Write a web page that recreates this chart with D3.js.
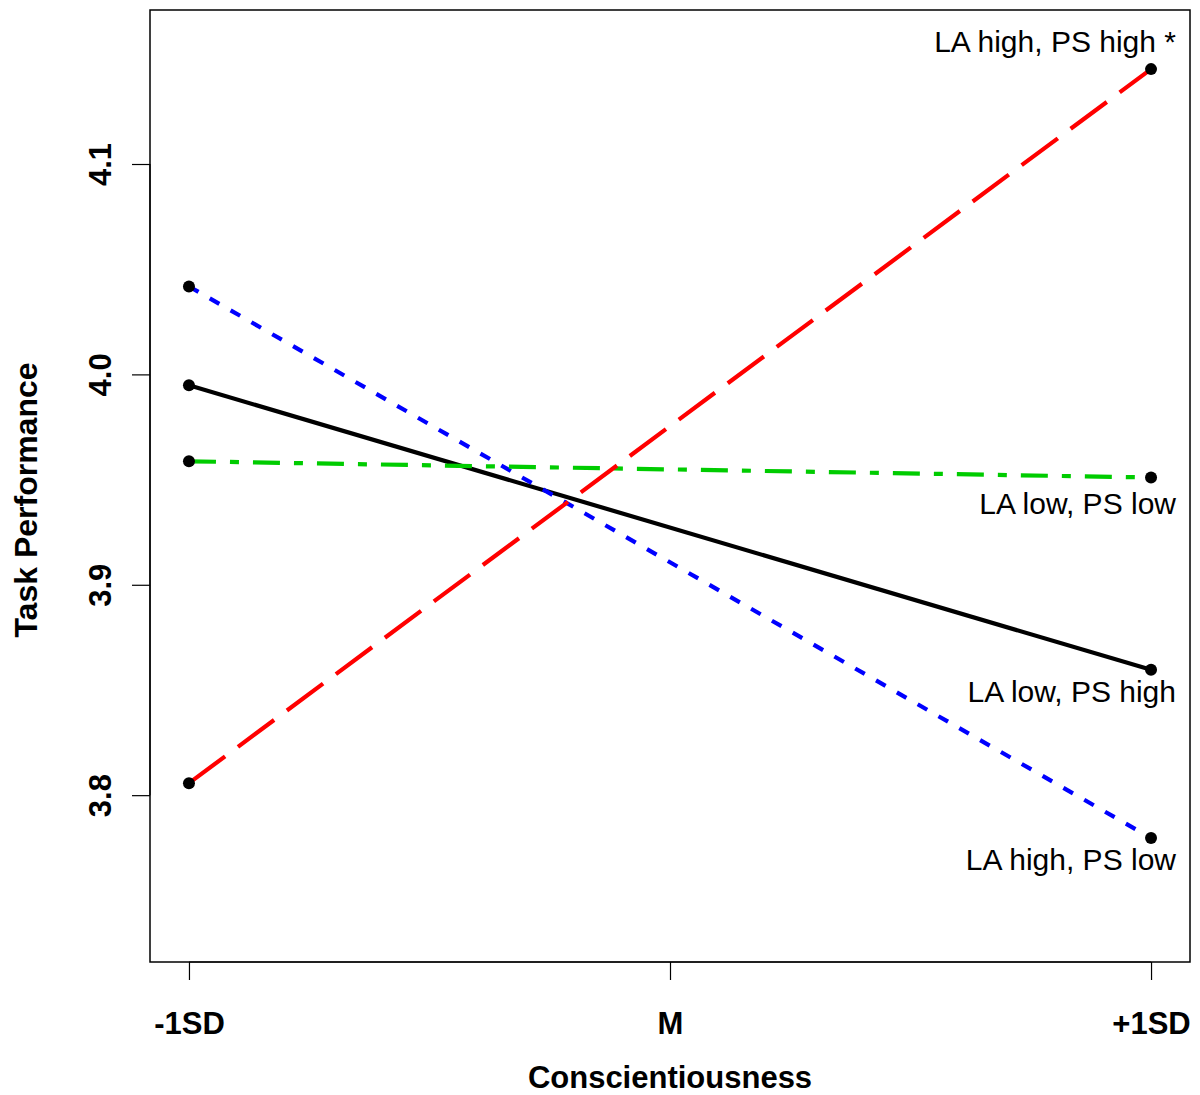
<!DOCTYPE html>
<html><head><meta charset="utf-8">
<script src="https://cdn.jsdelivr.net/npm/d3@7"></script>
<style>body{margin:0;background:#fff}svg{display:block}text{font-family:"Liberation Sans",Arial,sans-serif}</style>
</head><body><svg id="c" width="1200" height="1095"></svg>
<script>
const xLevels = [-1, 1];
const xTickValues = [-1, 0, 1];
const xTickLabels = ["-1SD", "M", "+1SD"];
const yTickValues = [3.8, 3.9, 4.0, 4.1];
const seriesNames = ["LA high, PS high *", "LA low, PS low", "LA low, PS high", "LA high, PS low"];
const redValues = [3.8057, 4.1451];
const greenValues = [3.9587, 3.9510];
const blackValues = [3.9948, 3.8596];
const blueValues = [4.0418, 3.7796];
const seriesColors = ["#ff0000", "#00cc00", "#000000", "#0000ff"];
const seriesDash = ["45,16", "27,14,9,14", null, "11,13"];

const svg = d3.select("#c");
const L = 150, R = 1190, T = 10, B = 962;
const x = d3.scaleLinear().domain([-1.081, 1.081]).range([L, R]);
const y = d3.scaleLinear().domain([3.7207, 4.1732]).range([B, T]);

const series = [redValues, greenValues, blackValues, blueValues];
const order = [2, 3, 1, 0];
const line = d3.line().x((d, i) => x(xLevels[i])).y(d => y(d));
order.forEach(k => {
  svg.append("path").datum(series[k]).attr("d", line)
    .attr("fill", "none").attr("stroke", seriesColors[k]).attr("stroke-width", 4.2)
    .attr("stroke-dasharray", seriesDash[k]);
});
series.forEach(s => {
  s.forEach((v, i) => {
    svg.append("circle").attr("cx", x(xLevels[i])).attr("cy", y(v)).attr("r", 6).attr("fill", "#000");
  });
});

svg.append("rect").attr("x", L).attr("y", T).attr("width", R - L).attr("height", B - T)
  .attr("fill", "none").attr("stroke", "#000").attr("stroke-width", 1.5);

const bold = 31;
const xAxis = d3.axisBottom(x).tickValues(xTickValues).tickSize(18).tickFormat((d, i) => xTickLabels[i]);
const gx = svg.append("g").attr("transform", `translate(0,${B})`).call(xAxis);
gx.select(".domain").attr("d", `M${x(-1)},0H${x(1)}`).attr("stroke-width", 1.2);
gx.selectAll(".tick line").attr("stroke-width", 1.2);
gx.selectAll(".tick text").attr("y", 0).attr("dy", null).attr("transform", "translate(0,72)")
  .attr("font-size", bold).attr("font-weight", "bold").attr("fill", "#000").attr("font-family", "Liberation Sans, Arial, sans-serif");

const yAxis = d3.axisLeft(y).tickValues(yTickValues).tickSize(18).tickFormat(d3.format(".1f"));
const gy = svg.append("g").attr("transform", `translate(${L},0)`).call(yAxis);
gy.select(".domain").attr("d", `M0,${y(3.8)}V${y(4.1)}`).attr("stroke-width", 1.2);
gy.selectAll(".tick line").attr("stroke-width", 1.2);
gy.selectAll(".tick text").attr("x", 0).attr("dy", null).attr("text-anchor", "middle")
  .attr("transform", "translate(-39,0) rotate(-90)")
  .attr("font-size", bold).attr("font-weight", "bold").attr("fill", "#000").attr("font-family", "Liberation Sans, Arial, sans-serif");

svg.append("text").attr("x", x(0)).attr("y", 1088).attr("text-anchor", "middle")
  .attr("font-size", bold).attr("font-weight", "bold").text("Conscientiousness");
svg.append("text").attr("transform", `translate(37,${(T + B) / 2 + 14}) rotate(-90)`).attr("text-anchor", "middle")
  .attr("font-size", 32).attr("font-weight", "bold").text("Task Performance");

const labelOffsets = [-17, 37, 32, 32];
series.forEach((s, k) => {
  svg.append("text").attr("x", 1176).attr("y", y(s[1]) + labelOffsets[k])
    .attr("text-anchor", "end").attr("font-size", 30).attr("fill", "#000").text(seriesNames[k]);
});
</script></body></html>
